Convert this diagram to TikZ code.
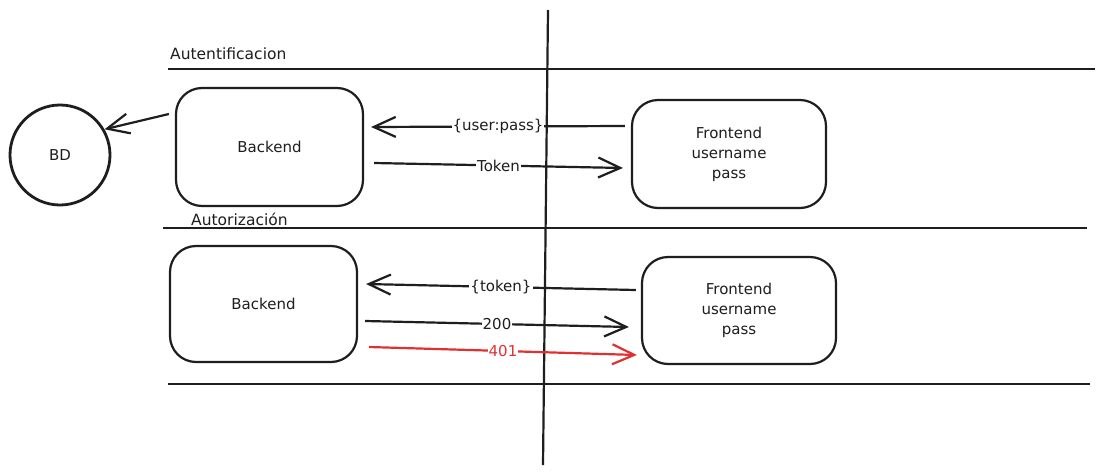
\documentclass[tikz,border=0pt]{standalone}
\usepackage{fontspec}
\setmainfont{DejaVu Sans}
\usetikzlibrary{arrows.meta}
\definecolor{ink}{HTML}{1E1E1E}
\definecolor{redink}{HTML}{E03131}
\tikzset{
  box/.style={draw=ink, line width=2.2pt, rounded corners=26pt, align=center, font=\fontsize{15}{20}\selectfont, text=ink},
  dbnode/.style={draw=ink, line width=2.8pt, circle, minimum size=100pt, inner sep=0pt, font=\fontsize{15}{20}\selectfont, text=ink},
  lane/.style={draw=ink, line width=2.8pt},
  divider/.style={draw=ink, line width=2.2pt},
  arr/.style={draw=ink, line width=2.2pt, -{Straight Barb[length=22pt,width=20pt,line width=2.2pt]}},
  redarr/.style={arr, draw=redink, -{Straight Barb[length=22pt,width=20pt,line width=2.2pt,color=redink]}},
  lbl/.style={fill=white, inner sep=1pt, font=\fontsize{15}{17}\selectfont, text=ink},
  title/.style={font=\fontsize{15.5}{17}\selectfont, text=ink, inner sep=0pt},
}
\begin{document}
\begin{tikzpicture}[x=1pt,y=-1pt]
\useasboundingbox[fill=white] (0,0) rectangle (1103,474);
% lanes
\draw[lane] (168,69) -- (1095,69);
\draw[lane] (163,228) -- (1087,228);
\draw[lane] (168,384) -- (1090,384);
\node[title, anchor=base west] (t1) at (170,59) {Autentificacion};
\node[title, anchor=base west] (t2) at (191,225) {Autorización};
% nodes
\node[dbnode] (bd) at (60,155) {BD};
\node[box, minimum width=187pt, minimum height=118pt] (b1) at (269.5,147) {Backend};
\node[box, minimum width=194pt, minimum height=108pt] (f1) at (729,154) {Frontend\\username\\pass};
\node[box, minimum width=187pt, minimum height=116pt] (b2) at (263.5,304) {Backend};
\node[box, minimum width=194pt, minimum height=107pt] (f2) at (739,310.5) {Frontend\\username\\pass};
% vertical divider
\draw[divider] (548,10) -- (543,465);
% connectors
\draw[arr] ([xshift=-6pt,yshift=33pt]b1.west) -- (bd.30);
\draw[arr] ([xshift=-6pt,yshift=28pt]f1.west) -- node[lbl, pos=0.5] {\{user:pass\}} ([xshift=7pt,yshift=20pt]b1.east);
\draw[arr] ([xshift=10pt,yshift=-16pt]b1.east) -- node[lbl, pos=0.5] {Token} ([xshift=-8pt,yshift=-14pt]f1.west);
\draw[arr] ([xshift=-5pt,yshift=20.5pt]f2.west) -- node[lbl, pos=0.5] {\{token\}} ([xshift=8pt,yshift=20pt]b2.east);
\draw[arr] ([xshift=7pt,yshift=-17pt]b2.east) -- node[lbl, pos=0.5] {200} ([xshift=-12pt,yshift=-16.5pt]f2.west);
\draw[redarr] ([xshift=11pt,yshift=-43pt]b2.east) -- node[lbl, pos=0.5, text=redink] {401} ([xshift=-4pt,yshift=-44.5pt]f2.west);
\end{tikzpicture}
\end{document}
